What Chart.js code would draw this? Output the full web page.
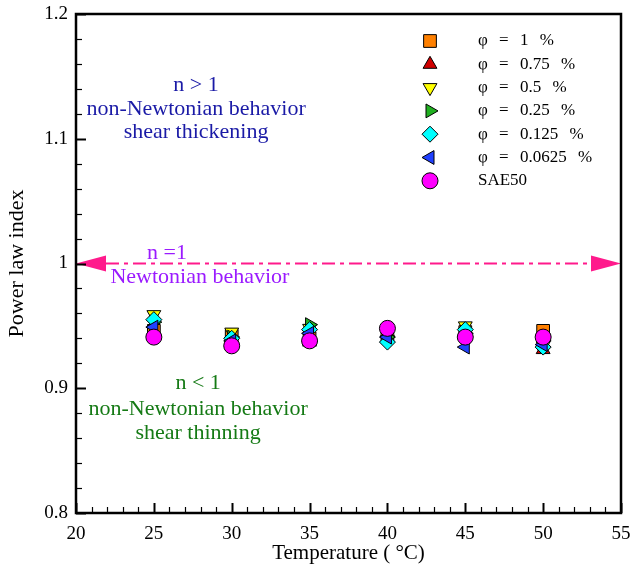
<!DOCTYPE html>
<html>
<head>
<meta charset="utf-8">
<script src="https://cdn.jsdelivr.net/npm/chart.js@4.4.1/dist/chart.umd.min.js"></script>
<style>
  html, body { margin: 0; padding: 0; background: #fff; }
  #wrap { width: 635px; height: 570px; }
</style>
</head>
<body>
<div id="wrap"><canvas id="powerLawChart" width="635" height="570"></canvas></div>
<script>
// Power law index vs temperature for each nanoparticle fraction
const temperatures = [25, 30, 35, 40, 45, 50];
const phi1 = [0.946, 0.942, 0.940, 0.943, 0.945, 0.946];
const phi075 = [0.945, 0.940, 0.937, 0.940, 0.944, 0.931];
const phi05 = [0.959, 0.945, 0.948, 0.939, 0.950, 0.934];
const phi025 = [0.953, 0.941, 0.951, 0.941, 0.944, 0.938];
const phi0125 = [0.955, 0.940, 0.947, 0.937, 0.947, 0.933];
const phi00625 = [0.949, 0.938, 0.944, 0.941, 0.933, 0.935];
const sae50 = [0.941, 0.934, 0.938, 0.948, 0.941, 0.941];

const seriesLabels = ['φ = 1 %', 'φ = 0.75 %', 'φ = 0.5 %', 'φ = 0.25 %', 'φ = 0.125 %', 'φ = 0.0625 %', 'SAE50'];
const seriesValues = [phi1, phi075, phi05, phi025, phi0125, phi00625, sae50];
const seriesColors = ['#ff8000', '#d00000', '#ffff00', '#20b020', '#00ffff', '#2040ff', '#ff00ff'];
const seriesShapes = ['rect', 'triangle', 'triangle', 'triangle', 'rectRot', 'triangle', 'circle'];
const seriesRotation = [0, 0, 180, 90, 0, 270, 0];
const seriesRadius = [9, 8, 8, 8, 8, 8, 8];

// Axis ranges
const xRange = [20, 55];
const yRange = [0.8, 1.2];

// n = 1 reference line (arrow from one side to the other)
const newtonianX = [20, 55];
const newtonianY = 1;

// Region notes: [text, x, y, colour]
const notes = [
    ['n > 1', 27.71, 1.143, '#1a1aa6'],
    ['non-Newtonian behavior', 27.71, 1.124, '#1a1aa6'],
    ['shear thickening', 27.71, 1.105, '#1a1aa6'],
    ['n =1', 25.84, 1.0085, '#9a1aff'],
    ['Newtonian behavior', 27.96, 0.989, '#9a1aff'],
    ['n < 1', 27.84, 0.904, '#157a15'],
    ['non-Newtonian behavior', 27.84, 0.883, '#157a15'],
    ['shear thinning', 27.84, 0.864, '#157a15']
];

const serif = '"Liberation Serif", "Times New Roman", serif';

const datasets = seriesLabels.map((label, i) => ({
    label: label,
    data: temperatures.map((t, j) => ({ x: t, y: seriesValues[i][j] })),
    pointStyle: seriesShapes[i],
    rotation: seriesRotation[i],
    pointRadius: seriesRadius[i],
    pointHoverRadius: seriesRadius[i],
    backgroundColor: seriesColors[i],
    borderColor: '#000',
    borderWidth: 1,
    showLine: false,
    order: seriesLabels.length - i
}));

// Dash-dot line with arrowheads at y = 1, plus the region notes
const notesPlugin = {
    id: 'notes',
    beforeDatasetsDraw(chart) {
        const ctx = chart.ctx;
        const xs = chart.scales.x, ys = chart.scales.y;
        const x0 = xs.getPixelForValue(newtonianX[0]);
        const x1 = xs.getPixelForValue(newtonianX[1]);
        const y = ys.getPixelForValue(newtonianY);
        const headLen = 30, headHalf = 8;
        ctx.save();
        ctx.strokeStyle = '#ff1a8c';
        ctx.fillStyle = '#ff1a8c';
        ctx.lineWidth = 2;
        ctx.setLineDash([13, 5, 4, 5]);
        ctx.beginPath();
        ctx.moveTo(x0 + headLen, y);
        ctx.lineTo(x1 - headLen, y);
        ctx.stroke();
        ctx.setLineDash([]);
        ctx.beginPath();
        ctx.moveTo(x0, y);
        ctx.lineTo(x0 + headLen, y - headHalf);
        ctx.lineTo(x0 + headLen, y + headHalf);
        ctx.closePath();
        ctx.fill();
        ctx.beginPath();
        ctx.moveTo(x1, y);
        ctx.lineTo(x1 - headLen, y - headHalf);
        ctx.lineTo(x1 - headLen, y + headHalf);
        ctx.closePath();
        ctx.fill();

        ctx.font = '22px ' + serif;
        ctx.textAlign = 'center';
        ctx.textBaseline = 'middle';
        notes.forEach(([text, nx, ny, color]) => {
            ctx.fillStyle = color;
            ctx.fillText(text, xs.getPixelForValue(nx), ys.getPixelForValue(ny));
        });
        ctx.restore();
    }
};

// Box frame with inward ticks and the in-plot legend
const framePlugin = {
    id: 'frame',
    afterDraw(chart) {
        const ctx = chart.ctx;
        const { left, right, top, bottom } = chart.chartArea;
        const xs = chart.scales.x, ys = chart.scales.y;
        ctx.save();
        ctx.strokeStyle = '#000';
        xs.ticks.forEach(t => {
            const major = t.value % 5 === 0;
            const px = Math.round(xs.getPixelForValue(t.value)) + 0.5;
            ctx.lineWidth = major ? 2 : 1.2;
            ctx.beginPath();
            ctx.moveTo(px, bottom);
            ctx.lineTo(px, bottom - (major ? 10 : 6));
            ctx.stroke();
        });
        ys.ticks.forEach(t => {
            const major = Math.round(t.value * 100) % 10 === 0;
            const py = Math.round(ys.getPixelForValue(t.value)) + 0.5;
            ctx.lineWidth = major ? 2 : 1.2;
            ctx.beginPath();
            ctx.moveTo(left, py);
            ctx.lineTo(left + (major ? 10 : 6), py);
            ctx.stroke();
        });
        ctx.lineWidth = 2.5;
        ctx.strokeRect(left, top, right - left, bottom - top);

        // legend
        const markerX = 430, textX = 478, rowY0 = 41, rowStep = 23.3;
        ctx.font = '17px ' + serif;
        ctx.textAlign = 'left';
        ctx.textBaseline = 'middle';
        ctx.wordSpacing = '7px';
        chart.data.datasets.forEach((ds, i) => {
            const ry = rowY0 + i * rowStep;
            ctx.fillStyle = ds.backgroundColor;
            ctx.strokeStyle = '#000';
            ctx.lineWidth = 1;
            Chart.helpers.drawPoint(ctx, {
                pointStyle: ds.pointStyle,
                rotation: ds.rotation,
                radius: ds.pointRadius,
                borderWidth: 1
            }, markerX, ry);
            ctx.fillStyle = '#000';
            ctx.fillText(ds.label, textX, ry);
        });
        ctx.restore();
    }
};

const ctx = document.getElementById('powerLawChart').getContext('2d');
const powerLawChart = new Chart(ctx, {
    type: 'scatter',
    data: { datasets: datasets },
    options: {
        responsive: false,
        animation: false,
        layout: { padding: { top: 14, right: 14, left: 0, bottom: 0 } },
        plugins: {
            legend: { display: false },
            tooltip: { enabled: false }
        },
        scales: {
            x: {
                type: 'linear',
                min: xRange[0],
                max: xRange[1],
                grid: { display: false, drawTicks: false },
                border: { display: false },
                ticks: {
                    stepSize: 1,
                    autoSkip: false,
                    maxRotation: 0,
                    padding: 10,
                    color: '#000',
                    font: { family: serif, size: 19 },
                    callback: v => (v % 5 === 0 ? String(v) : '')
                },
                title: {
                    display: true,
                    text: 'Temperature ( °C)',
                    color: '#000',
                    font: { family: serif, size: 21 },
                    padding: { top: 0, bottom: 4 }
                },
                afterFit: scale => {
                    scale.height = 57;
                    scale.paddingLeft = 0;
                    scale.paddingRight = 0;
                }
            },
            y: {
                type: 'linear',
                min: yRange[0],
                max: yRange[1],
                grid: { display: false, drawTicks: false },
                border: { display: false },
                ticks: {
                    stepSize: 0.02,
                    autoSkip: false,
                    padding: 8,
                    color: '#000',
                    font: { family: serif, size: 19 },
                    callback: v => (Math.round(v * 100) % 10 === 0 ? String(Math.round(v * 10) / 10) : '')
                },
                title: {
                    display: true,
                    text: 'Power law index',
                    color: '#000',
                    font: { family: serif, size: 22 },
                    padding: { top: 4, bottom: 0 }
                },
                afterFit: scale => {
                    scale.width = 76;
                    scale.paddingTop = 0;
                    scale.paddingBottom = 0;
                }
            }
        }
    },
    plugins: [notesPlugin, framePlugin]
});
</script>
</body>
</html>
